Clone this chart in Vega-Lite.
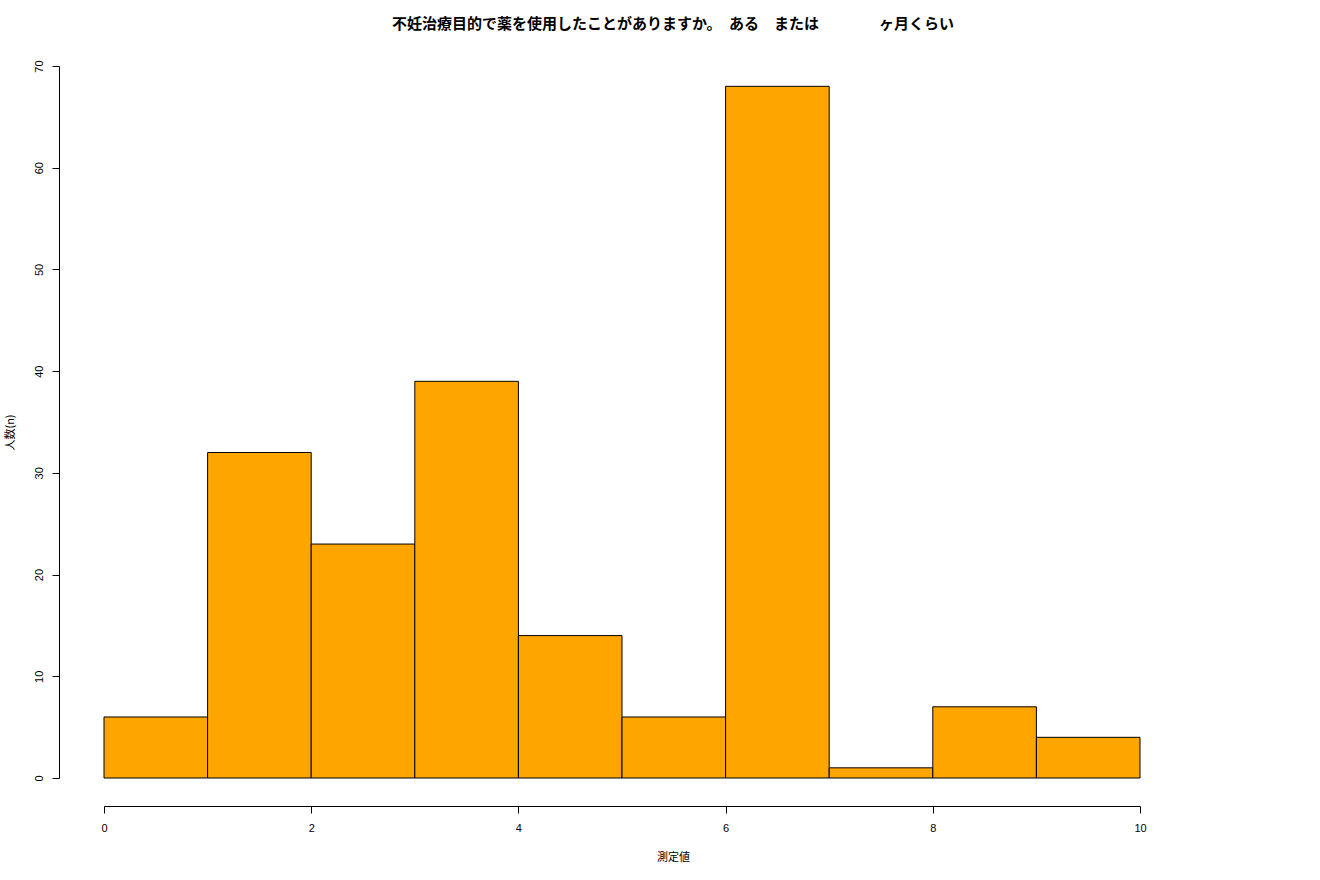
{
  "$schema": "https://vega.github.io/schema/vega-lite/v6.json",
  "autosize": "none",
  "width": 1036,
  "height": 712,
  "padding": {"left": 104, "top": 66, "right": 180, "bottom": 102},
  "background": "white",
  "config": {
    "view": {"stroke": null},
    "font": "Liberation Sans"
  },
  "title": {
    "text": "不妊治療目的で薬を使用したことがありますか。　ある　または　　　　ヶ月くらい",
    "font": "Noto Sans CJK JP",
    "fontSize": 15,
    "fontWeight": "bold",
    "color": "black",
    "anchor": "middle",
    "frame": "group",
    "dx": 51,
    "offset": 28
  },
  "data": {
    "values": [
      {"start": 0, "end": 1, "count": 6},
      {"start": 1, "end": 2, "count": 32},
      {"start": 2, "end": 3, "count": 23},
      {"start": 3, "end": 4, "count": 39},
      {"start": 4, "end": 5, "count": 14},
      {"start": 5, "end": 6, "count": 6},
      {"start": 6, "end": 7, "count": 68},
      {"start": 7, "end": 8, "count": 1},
      {"start": 8, "end": 9, "count": 7},
      {"start": 9, "end": 10, "count": 4}
    ]
  },
  "mark": {"type": "rect", "fill": "#FFA500", "stroke": "black", "strokeWidth": 1},
  "encoding": {
    "x": {
      "field": "start",
      "type": "quantitative",
      "scale": {"domain": [0, 10], "nice": false, "zero": false},
      "axis": {
        "title": "測定値",
        "titleFont": "Noto Sans CJK JP",
        "titleFontSize": 11,
        "titleFontWeight": "normal",
        "titleColor": "black",
        "titleX": 569,
        "titleY": 51,
        "titleBaseline": "middle",
        "values": [0, 2, 4, 6, 8, 10],
        "offset": 28,
        "grid": false,
        "domainColor": "black",
        "tickColor": "black",
        "tickSize": 7,
        "labelFontSize": 11,
        "labelColor": "black",
        "labelPadding": 9,
        "labelFlush": false
      }
    },
    "x2": {"field": "end"},
    "y": {
      "field": "count",
      "type": "quantitative",
      "scale": {"domain": [0, 70], "nice": false},
      "axis": {
        "title": "人数(n)",
        "titleFont": "Noto Sans CJK JP",
        "titleFontSize": 11,
        "titleFontWeight": "normal",
        "titleColor": "black",
        "titleAngle": -90,
        "titleX": -49,
        "titleY": 366,
        "titleBaseline": "middle",
        "values": [0, 10, 20, 30, 40, 50, 60, 70],
        "offset": 45,
        "grid": false,
        "domainColor": "black",
        "tickColor": "black",
        "tickSize": 7,
        "labelFontSize": 11,
        "labelColor": "black",
        "labelAngle": -90,
        "labelAlign": "center",
        "labelBaseline": "bottom",
        "labelPadding": 8,
        "labelFlush": false
      }
    },
    "y2": {"datum": 0}
  }
}
